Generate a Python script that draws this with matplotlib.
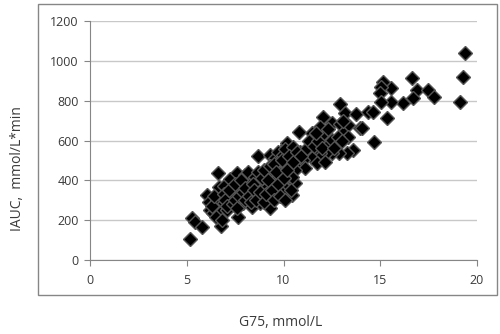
import matplotlib
matplotlib.use("Agg")
import matplotlib.pyplot as plt
from matplotlib.patches import Rectangle

# G75 (mmol/L) and IAUC (mmol/L*min)
g75 = [
    5.17, 5.25, 5.45, 5.78, 6.05, 6.15, 6.2, 6.37, 6.55, 6.6, 6.68, 6.72, 6.75,
    6.9, 6.9, 6.5, 7.06, 7.24, 7.32, 7.58, 7.66, 7.75, 7.92, 8.01, 8.1, 8.18,
    8.36, 8.44, 8.53, 8.7, 8.79, 8.79, 8.96, 9.13, 9.3, 9.3, 9.3, 9.39, 9.56,
    9.65, 9.73, 9.82, 9.91, 9.99, 10.08, 10.17, 10.17, 10.34, 10.42, 10.59,
    10.6, 10.8,
    12.92, 13.18, 13.75, 12.06, 12.49, 12.92, 13.35, 13.95, 11.89, 11.46,
    12.06, 13.09, 13.35, 12.32, 12.5, 13.58, 13.27, 12.88, 12.49, 12.2, 11.89,
    11.54, 11.46, 11.02, 11.71, 12.14, 11.11, 10.59, 10.17, 10.1, 10.51,
    10.85, 10.34, 10.0, 10.17, 10.42, 10.08, 10.42, 9.9, 14.38,
    19.38, 19.26, 19.12, 16.62, 16.88, 16.71, 17.49, 17.78, 16.19, 15.54,
    15.54, 15.12, 15.02, 14.99, 15.02, 14.64, 15.37, 14.04, 14.68,
    6.3, 6.4, 6.8, 6.9, 7.0, 7.1, 7.2, 7.4, 7.5, 7.5, 7.6, 7.7, 7.8, 7.9,
    8.0, 8.0, 8.2, 8.3, 8.4, 8.5, 8.6, 8.7, 8.8, 8.9, 9.0, 9.0, 9.1, 9.2,
    9.3, 9.4, 9.5, 9.5, 9.6, 9.7, 9.8, 9.9, 10.0, 10.1, 10.2, 10.3, 10.4,
    10.5, 10.7, 10.9, 11.2, 11.3, 11.6, 11.8, 12.0, 12.6, 12.8, 13.0, 13.1,
    12.3, 11.7,
]
iauc = [
    107, 209, 190, 165, 326, 290, 251, 234, 300, 438, 368, 234, 172,
    285, 370, 215, 251, 405, 318, 435, 218, 351, 285, 427, 385, 443,
    268, 335, 418, 520, 385, 285, 326, 368, 301, 259, 527, 435, 510,
    410, 544, 368, 452, 527, 477, 368, 577, 435, 535, 477,
    385, 644,
    783, 740, 733, 716, 689, 683, 678, 661, 669, 639,
    619, 636, 616, 589, 605, 552, 539, 539, 539, 535, 539,
    552, 510, 502, 485, 493, 460, 452, 586, 555, 569,
    544, 510, 485, 435, 418, 360, 326, 335, 745,
    1038, 920, 795, 915, 853, 812, 853, 817, 787, 795,
    862, 895, 870, 837, 795, 745, 711, 661, 594,
    270, 320, 200, 330, 300, 270, 350, 280, 300, 380, 260, 320, 400, 340,
    300, 360, 320, 290, 380, 350, 300, 440, 340, 410, 290, 450, 330, 400,
    470, 350, 300, 480, 440, 380, 320, 500, 410, 300, 450, 520, 350,
    490, 540, 520, 560, 600, 570, 600, 560, 560, 620, 600, 700,
    660, 640,
]

X_TICKS = [0, 5, 10, 15, 20]
Y_TICKS = [0, 200, 400, 600, 800, 1000, 1200]

plt.rcParams["font.family"] = ["Open Sans", "DejaVu Sans"]
TEXT = "#3a3a3a"

fig = plt.figure(figsize=(5, 3.34), dpi=100)
ax = fig.add_axes([0.18, 0.2216, 0.774, 0.7154])

# outer frame around the chart area
fig.patches.append(Rectangle((38 / 500, 1 - 295 / 334), 459 / 500, 291 / 334,
                             transform=fig.transFigure, fill=False,
                             edgecolor="#868686", linewidth=1.0))

ax.plot(g75, iauc, linestyle="none", marker="D", markersize=6.8,
        markerfacecolor="black", markeredgecolor="#555555", markeredgewidth=1.0)

ax.set_xlim(0, 20)
ax.set_ylim(0, 1200)
ax.set_xticks(X_TICKS)
ax.set_yticks(Y_TICKS)
ax.yaxis.grid(True, color="#c8c8c8", linewidth=1.0)
ax.set_axisbelow(True)

for side in ["top", "right"]:
    ax.spines[side].set_visible(False)
for side in ["left", "bottom"]:
    ax.spines[side].set_color("#868686")
ax.tick_params(axis="both", colors="#868686", labelcolor=TEXT,
               labelsize=9, length=4, width=0.8)
ax.tick_params(axis="y", pad=4)
ax.tick_params(axis="x", pad=6)

fig.text(18 / 500, 1 - 169 / 334, "IAUC,  mmol/L*min", fontsize=10,
         color=TEXT, rotation=90, ha="center", va="center")
fig.text(281 / 500, 1 - 322 / 334, "G75, mmol/L", fontsize=10, color=TEXT,
         ha="center", va="center")

fig.savefig("out.png", dpi=100)
